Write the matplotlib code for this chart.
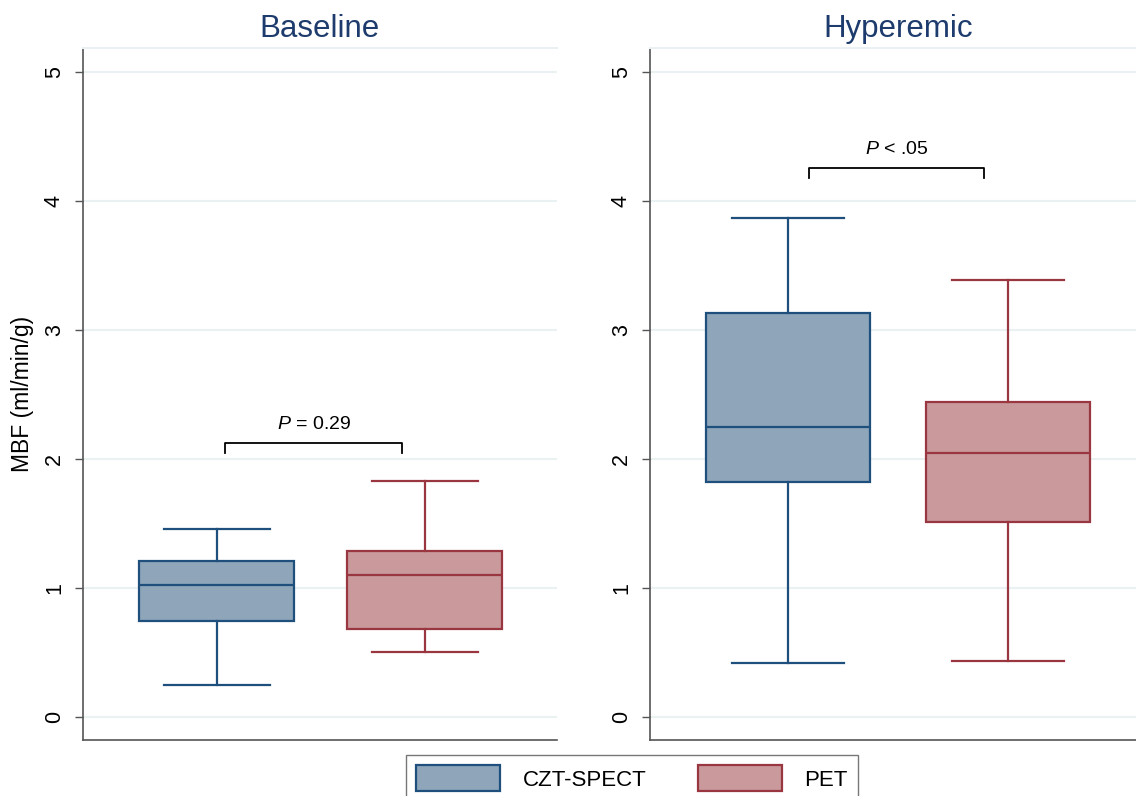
import matplotlib.pyplot as plt
from matplotlib.patches import Patch

plt.rcParams['font.family'] = ['Liberation Sans', 'DejaVu Sans']
plt.rcParams['mathtext.fontset'] = 'custom'
plt.rcParams['mathtext.it'] = 'Liberation Sans:italic'
plt.rcParams['mathtext.rm'] = 'Liberation Sans'

# summary statistics read per group: whisker low, q1, median, q3, whisker high
groups = ['CZT-SPECT', 'PET']
panels = ['Baseline', 'Hyperemic']
whislo = {'Baseline': [0.25, 0.50], 'Hyperemic': [0.42, 0.43]}
q1 = {'Baseline': [0.74, 0.68], 'Hyperemic': [1.82, 1.51]}
med = {'Baseline': [1.02, 1.10], 'Hyperemic': [2.25, 2.05]}
q3 = {'Baseline': [1.21, 1.29], 'Hyperemic': [3.13, 2.44]}
whishi = {'Baseline': [1.46, 1.83], 'Hyperemic': [3.87, 3.39]}
pvals = {'Baseline': r'$\it{P}$ = 0.29', 'Hyperemic': r'$\it{P}$ < .05'}
yticks = [0, 1, 2, 3, 4, 5]

fills = ['#8ea5ba', '#c9999c']
edges = ['#1f4f7d', '#993640']
title_col = '#1d3b6c'
grid_col = '#e9f1f3'

fig = plt.figure(figsize=(11.36, 7.96), dpi=100)
ax_pos = {'Baseline': [83 / 1136, 56 / 796, 474 / 1136, 692 / 796],
          'Hyperemic': [650 / 1136, 56 / 796, 496 / 1136, 692 / 796]}
xlims = {'Baseline': (0.356, 2.635), 'Hyperemic': (0.373, 2.627)}
brackets = {'Baseline': (1.04, 1.89, 2.045, 2.125),
            'Hyperemic': (1.095, 1.89, 4.18, 4.26)}

for p in panels:
    ax = fig.add_axes(ax_pos[p])
    stats = []
    for i in range(2):
        stats.append(dict(whislo=whislo[p][i], q1=q1[p][i], med=med[p][i],
                          q3=q3[p][i], whishi=whishi[p][i], fliers=[]))
    bp = ax.bxp(stats, positions=[1, 2], widths=0.745, patch_artist=True,
                showfliers=False, capwidths=0.51)
    for i in range(2):
        bp['boxes'][i].set(facecolor=fills[i], edgecolor=edges[i], linewidth=1.6)
        bp['medians'][i].set(color=edges[i], linewidth=1.6)
        for art in bp['whiskers'][2 * i:2 * i + 2] + bp['caps'][2 * i:2 * i + 2]:
            art.set(color=edges[i], linewidth=1.6)

    ax.set_xlim(*xlims[p])
    ax.set_ylim(-0.18, 5.19)
    ax.set_yticks(yticks)
    ax.set_yticklabels([str(t) for t in yticks], rotation=90, va='center',
                       fontsize=15.5)
    ax.set_xticks([])
    ax.grid(axis='y', color=grid_col, linewidth=1.5)
    ax.set_axisbelow(True)
    ax.tick_params(axis='y', length=6, width=1, color='#555555', pad=7)
    for s in ['left', 'bottom']:
        ax.spines[s].set_color('#555555')
        ax.spines[s].set_linewidth(1.2)
    ax.spines['right'].set_visible(False)
    ax.spines['top'].set_color(grid_col)
    ax.spines['top'].set_linewidth(1.5)
    ax.set_title(p, fontsize=22.5, color=title_col, pad=8)

    x0, x1, ylo, yhi = brackets[p]
    ax.plot([x0, x0, x1, x1], [ylo, yhi, yhi, ylo], color='black', linewidth=1.3)
    ax.text((x0 + x1) / 2, yhi + 0.08, pvals[p], ha='center', va='bottom',
            fontsize=14)

    if p == 'Baseline':
        ax.set_ylabel('MBF (ml/min/g)', fontsize=16.5)
        ax.yaxis.set_label_coords(-0.104, 0.5)

handles = [Patch(facecolor=fills[i], edgecolor=edges[i], linewidth=1.6)
           for i in range(2)]
fig.legend(handles, groups, loc='upper left',
           bbox_to_anchor=(406 / 1136, 1 - 755 / 796), ncol=2, fontsize=16,
           frameon=True, fancybox=False, edgecolor='#555555',
           handlelength=3.8, handleheight=1.45, handletextpad=1.0,
           columnspacing=2.3, borderpad=0.45, borderaxespad=0)

fig.savefig('out.png', dpi=100)
